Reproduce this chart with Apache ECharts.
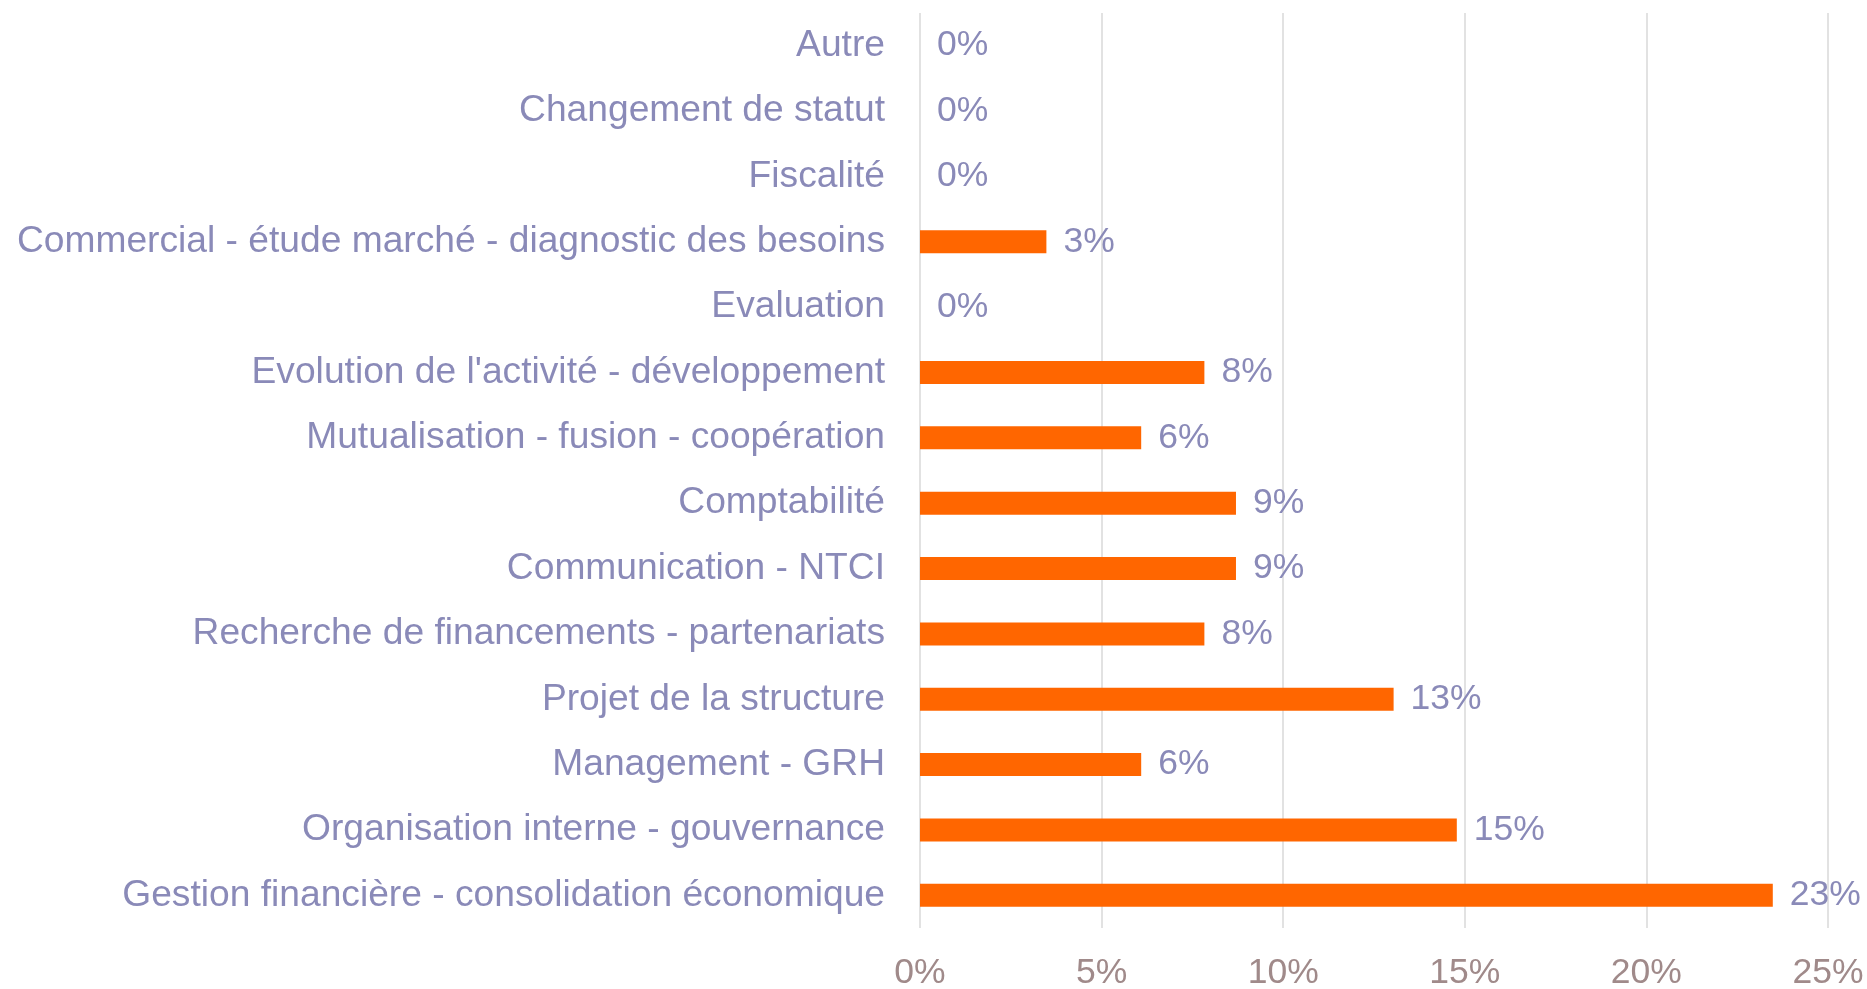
<!DOCTYPE html>
<html>
<head>
<meta charset="utf-8">
<script src="https://cdn.jsdelivr.net/npm/echarts@6/dist/echarts.min.js"></script>
<style>
html,body{margin:0;padding:0;background:#fff;}
#chart{width:1867px;height:989px;}
</style>
</head>
<body>
<div id="chart"></div>
<script>
var categories = [
  "Autre",
  "Changement de statut",
  "Fiscalité",
  "Commercial - étude marché - diagnostic des besoins",
  "Evaluation",
  "Evolution de l'activité - développement",
  "Mutualisation - fusion - coopération",
  "Comptabilité",
  "Communication - NTCI",
  "Recherche de financements - partenariats",
  "Projet de la structure",
  "Management - GRH",
  "Organisation interne - gouvernance",
  "Gestion financière - consolidation économique"
];
var values = [0, 0, 0, 3.48, 0, 7.83, 6.09, 8.70, 8.70, 7.83, 13.04, 6.09, 14.78, 23.48];
var xTicks = [0, 5, 10, 15, 20, 25];

var FONT = '"Liberation Sans", Arial, sans-serif';
var chart = echarts.init(document.getElementById('chart'), null, {renderer: 'canvas'});
chart.setOption({
  animation: false,
  backgroundColor: '#ffffff',
  grid: {left: 920, right: 39, top: 13, bottom: 61, containLabel: false, outerBoundsMode: 'none'},
  xAxis: {
    type: 'value',
    min: xTicks[0],
    max: xTicks[xTicks.length - 1],
    interval: xTicks[1] - xTicks[0],
    axisLine: {show: false},
    axisTick: {show: false},
    splitLine: {show: true, lineStyle: {color: '#d9d9d9', width: 1.5}},
    axisLabel: {
      formatter: '{value}%',
      color: '#a08a8a',
      fontFamily: FONT,
      fontSize: 35.5,
      margin: 27
    }
  },
  yAxis: {
    type: 'category',
    inverse: true,
    data: categories,
    axisLine: {show: false},
    axisTick: {show: false},
    splitLine: {show: false},
    axisLabel: {
      color: '#8a8ab8',
      fontFamily: FONT,
      fontSize: 37.2,
      margin: 35,
      padding: [2, 0, 0, 0]
    }
  },
  series: [{
    type: 'bar',
    data: values,
    barWidth: 23,
    itemStyle: {color: '#ff6600'},
    label: {
      show: true,
      position: 'right',
      distance: 17,
      color: '#8a8ab8',
      fontFamily: FONT,
      fontSize: 35.5,
      padding: [2, 0, 0, 0],
      formatter: function (p) { return Math.round(p.value) + '%'; }
    }
  }]
});
</script>
</body>
</html>
